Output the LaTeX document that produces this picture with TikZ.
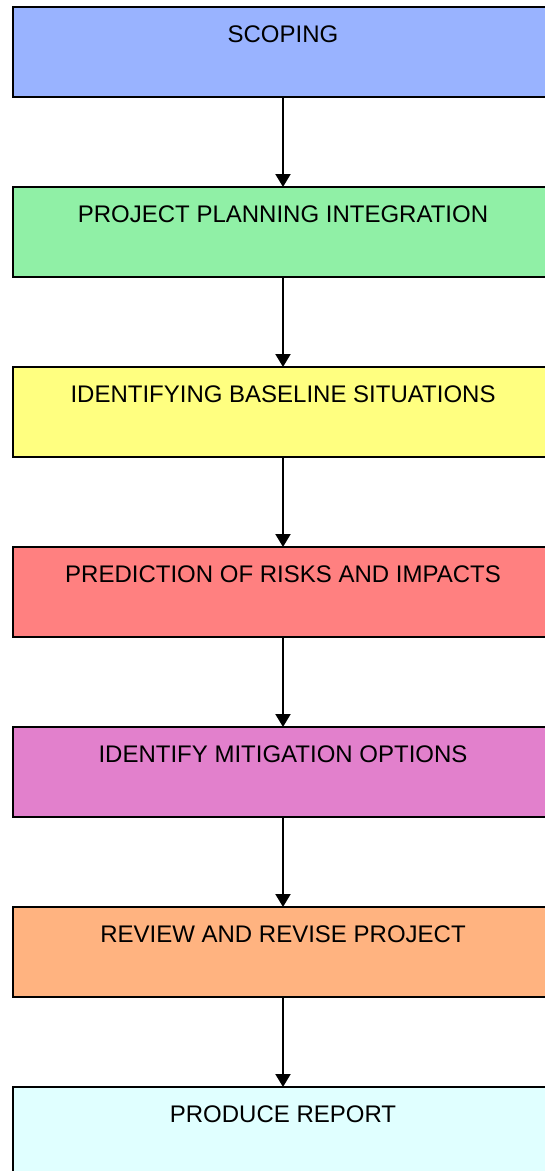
\documentclass[tikz,border=0pt]{standalone}
\usepackage{fontspec}
\setmainfont{Liberation Sans}
\usetikzlibrary{arrows.meta}
\definecolor{cScope}{RGB}{153,179,255}
\definecolor{cPlan}{RGB}{144,240,166}
\definecolor{cBase}{RGB}{255,255,128}
\definecolor{cPred}{RGB}{255,128,128}
\definecolor{cMit}{RGB}{226,128,204}
\definecolor{cRev}{RGB}{255,179,128}
\definecolor{cRep}{RGB}{224,255,255}
\begin{document}
\begin{tikzpicture}[x=1pt,y=-1pt,
  stagebox/.style={draw=black, line width=2.5pt, minimum width=540pt, inner sep=0pt, outer sep=0pt,
    text height=35pt, text depth=55pt, anchor=north, font=\fontsize{24}{28}\selectfont},
  flowarrow/.style={line width=2pt, -{Triangle[width=15pt,length=13pt]}}]
\useasboundingbox (0,0) rectangle (545,1171);
\clip (0,0) rectangle (545,1171);
\node[stagebox, fill=cScope] (s1) at (283,7) {SCOPING};
\node[stagebox, fill=cPlan] (s2) at (283,187) {PROJECT PLANNING INTEGRATION};
\node[stagebox, fill=cBase] (s3) at (283,367) {IDENTIFYING BASELINE SITUATIONS};
\node[stagebox, fill=cPred] (s4) at (283,547) {PREDICTION OF RISKS AND IMPACTS};
\node[stagebox, fill=cMit] (s5) at (283,727) {IDENTIFY MITIGATION OPTIONS};
\node[stagebox, fill=cRev] (s6) at (283,907) {REVIEW AND REVISE PROJECT};
\node[stagebox, fill=cRep] (s7) at (283,1087) {PRODUCE REPORT};
\foreach \a/\b in {s1/s2,s2/s3,s3/s4,s4/s5,s5/s6,s6/s7}
  \draw[flowarrow] (\a.south) -- (\b.north);
\end{tikzpicture}
\end{document}
